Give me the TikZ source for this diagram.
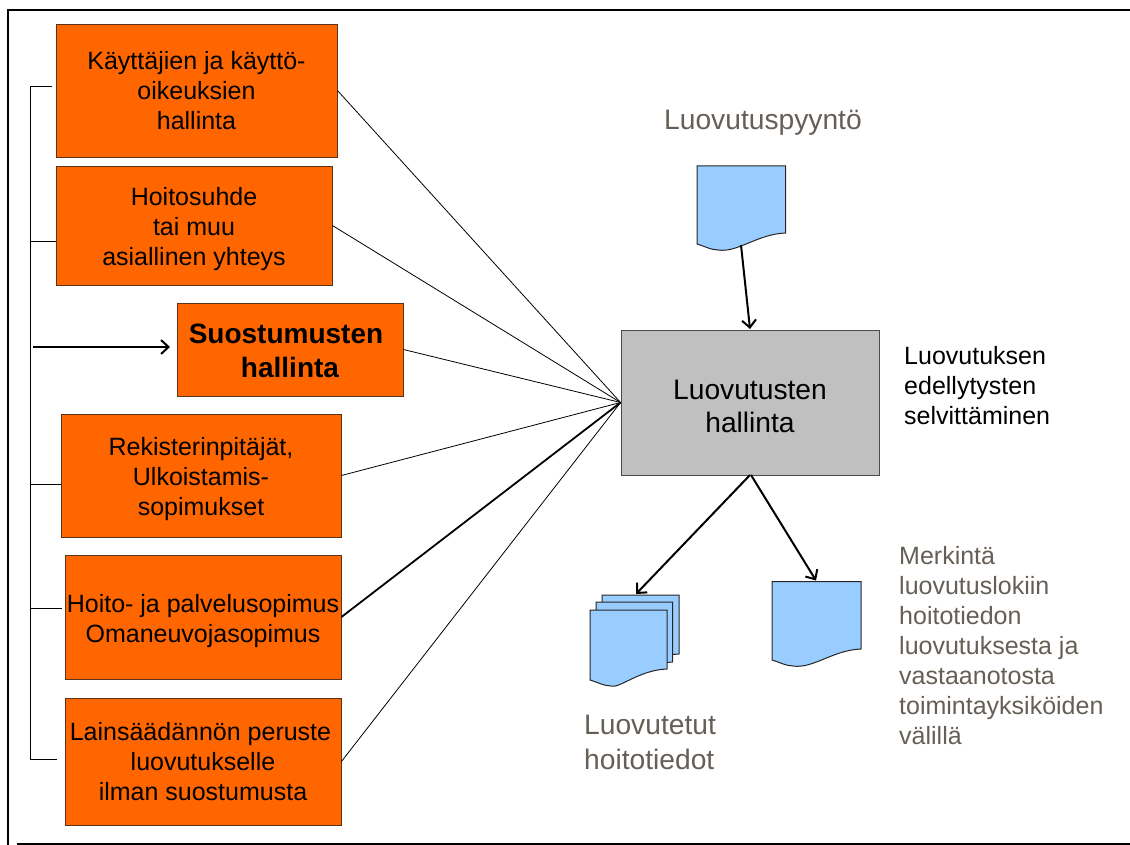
\documentclass[tikz,border=0pt]{standalone}
\usepackage{fontspec}
\setmainfont{Liberation Sans}
\usetikzlibrary{arrows.meta}
\definecolor{boxorange}{HTML}{FF6600}
\definecolor{boxedge}{HTML}{5A3418}
\definecolor{docblue}{HTML}{99CCFF}
\definecolor{softgrey}{HTML}{C0C0C0}
\definecolor{noteink}{HTML}{665F57}
\newcommand{\docpath}[4]{% left, top, right, bottom-right y
  \draw[docline] (#1,#2) -- (#3,#2) -- (#3,#4)
    .. controls ({#3-28},{#4+1}) and ({#3-48},{#4+20}) .. ({#1+21},{#4+17})
    .. controls ({#1+14},{#4+17}) and ({#1+7},{#4+13}) .. (#1,{#4+11}) -- cycle;}
\newcommand{\topstrut}[1]{\rule{0pt}{#1}}
\tikzset{
  orangebox/.style={draw=boxedge,line width=0.9pt,fill=boxorange,inner sep=0pt,align=center,
    font=\fontsize{25}{30}\selectfont,text=black},
  boldbox/.style={orangebox,font=\fontsize{28}{34}\selectfont\bfseries},
  greybox/.style={draw=black!70,line width=0.9pt,fill=softgrey,inner sep=0pt,align=center,
    font=\fontsize{28.2}{33}\selectfont},
  docline/.style={draw=black!85,line width=1pt,fill=docblue},
  thinline/.style={draw=black,line width=0.8pt},
  feedline/.style={draw=black,line width=0.9pt},
  flowarrow/.style={draw=black,line width=2pt,-{Straight Barb[length=7.5pt,width=14pt,line width=2pt]}},
  notelabel/.style={text=noteink,align=left,inner sep=0pt,anchor=north west},
  framerule/.style={draw=black,line width=1.8pt}
}
\begin{document}
\begin{tikzpicture}[x=1pt,y=-1pt]
\useasboundingbox (0,0) rectangle (1130,845);
\fill[white] (0,0) rectangle (1130,845);
% frame
\coordinate (ftr) at (1130,10);
\coordinate (ftl) at (8,10);
\coordinate (fbl) at (8,845);
\coordinate (bl) at (17,844);
\coordinate (br) at (1130,844);
\draw[framerule] (ftr) -- (ftl) -- (fbl);
\draw[framerule] (bl) -- (br);
% boxes
\node[orangebox,minimum width=281pt,minimum height=133pt] (b1) at (196.5,90.5) {Käyttäjien ja käyttö-\\oikeuksien\hspace*{8pt}\\hallinta};
\node[orangebox,minimum width=276pt,minimum height=119pt] (b2) at (194,225.5) {\topstrut{24.2pt}Hoitosuhde\\tai muu\hspace*{7pt}\\asiallinen yhteys};
\node[boldbox,minimum width=226pt,minimum height=93pt] (b3) at (290,349.5) {\topstrut{23pt}Suostumusten\hspace*{8pt}\\hallinta};
\node[orangebox,minimum width=280pt,minimum height=123pt] (b4) at (201,475.5) {\topstrut{26pt}Rekisterinpitäjät,\\Ulkoistamis-\\sopimukset};
\node[orangebox,minimum width=276pt,minimum height=124pt] (b5) at (203,617) {\topstrut{26pt}Hoito- ja palvelusopimus\\Omaneuvojasopimus};
\node[orangebox,minimum width=276pt,minimum height=127pt] (b6) at (203,761.5) {Lainsäädännön peruste\hspace*{5pt}\\luovutukselle\\ilman suostumusta};
\node[greybox,minimum width=258pt,minimum height=145pt] (hub) at (750,402.5) {\topstrut{26.5pt}Luovutusten\\hallinta};
% connectors to hub
\draw[thinline] (b1.east) -- (hub.west);
\draw[thinline] (b2.east) -- (hub.west);
\draw[thinline] (b3.east) -- (hub.west);
\draw[thinline] (b4.east) -- (hub.west);
\draw[draw=black,line width=1.8pt] (b5.east) -- (hub.west);
\draw[thinline] (b6.east) -- (hub.west);
% bracket
\coordinate (bt) at (30,86);
\coordinate (bb) at (30,759);
\coordinate (t1) at (52,86);
\coordinate (j2) at (30,241);
\coordinate (t2) at (56,241);
\coordinate (j4) at (30,484);
\coordinate (t4) at (61,484);
\coordinate (j5) at (30,608);
\coordinate (t5) at (62,608);
\coordinate (t6) at (57,759);
\draw[feedline] (t1) -- (bt) -- (bb) -- (t6);
\draw[feedline] (j2) -- (t2);
\draw[feedline] (j4) -- (t4);
\draw[feedline] (j5) -- (t5);
\coordinate (fs) at (33,347);
\coordinate (fe) at (170,347);
\draw[flowarrow] (fs) -- (fe);
% documents
\docpath{697}{166}{785.5}{233}
\docpath{772}{581.5}{861}{649}
\docpath{602}{595}{679}{654}
\docpath{596}{602}{672.5}{662}
\docpath{590}{610}{667}{669}
% arrows between documents and hub
\coordinate (d1out) at (741,245);
\coordinate (hubin) at (750,329);
\coordinate (hubl) at (750,475);
\coordinate (hubr) at (751,475);
\coordinate (stackin) at (636,594);
\coordinate (logdoc) at (816,580.5);
\draw[flowarrow] (d1out) -- (hubin);
\draw[flowarrow] (hubl) -- (stackin);
\draw[flowarrow] (hubr) -- (logdoc);
% labels
\node[notelabel,font=\fontsize{28.2}{34}\selectfont] (req) at (664,110) {Luovutuspyyntö};
\node[notelabel,font=\fontsize{28.2}{35}\selectfont] (out) at (584,715) {Luovutetut\\hoitotiedot};
\node[inner sep=0pt,anchor=north west,align=left,font=\fontsize{25}{30.2}\selectfont] (cond) at (904,346) {Luovutuksen\\edellytysten\\selvittäminen};
\node[notelabel,font=\fontsize{25}{30}\selectfont] (note) at (899,546) {Merkintä\\luovutuslokiin\\hoitotiedon\\luovutuksesta ja\\vastaanotosta\\toimintayksiköiden\\välillä};
\end{tikzpicture}
\end{document}
